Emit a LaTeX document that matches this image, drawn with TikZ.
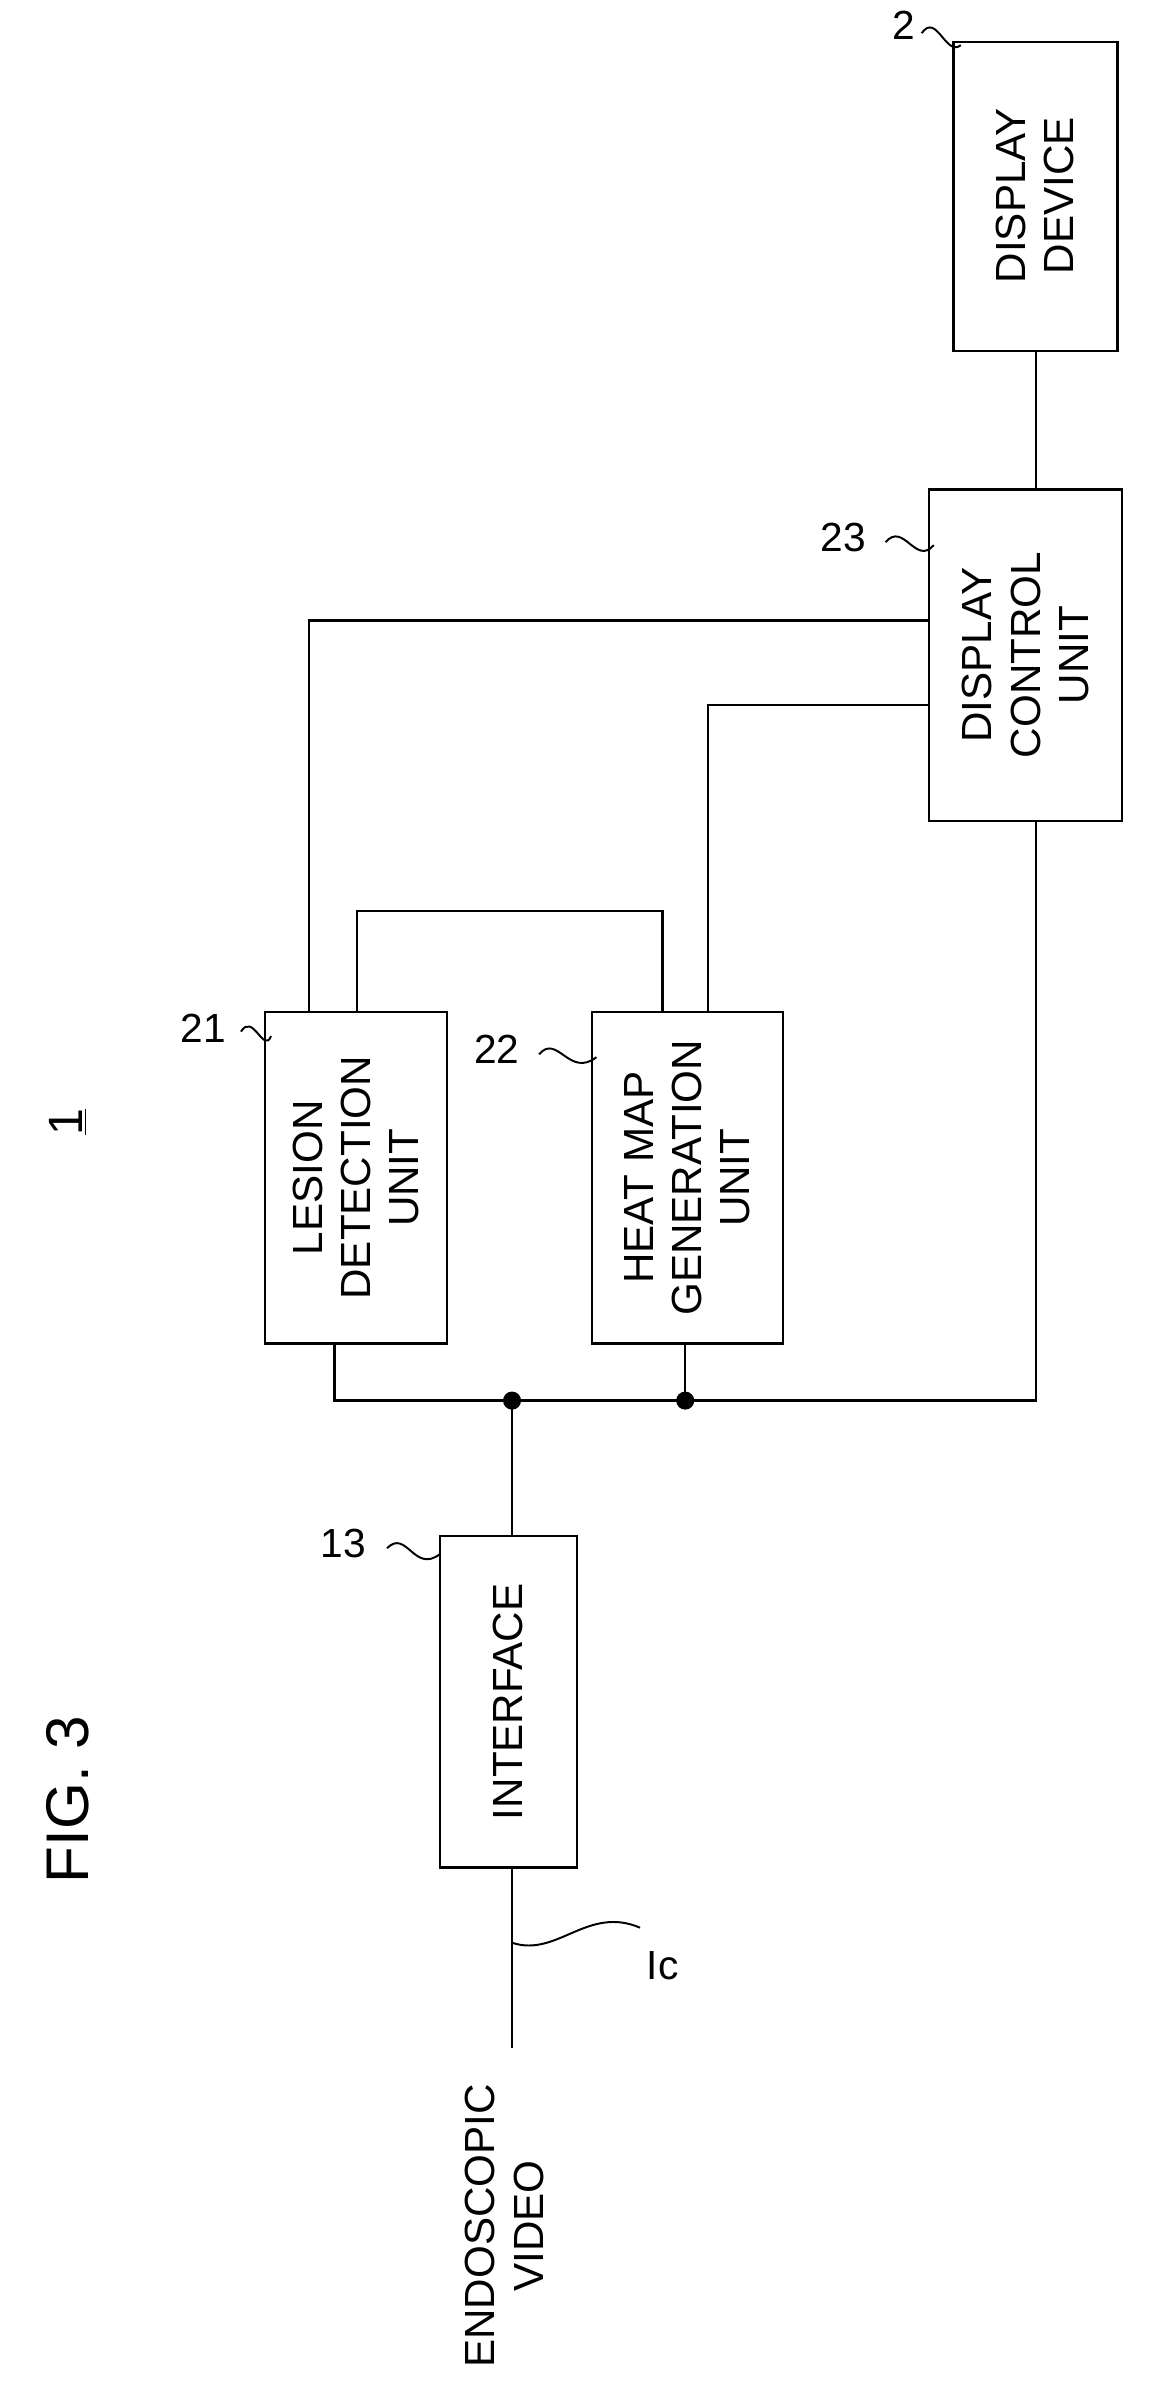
\documentclass[tikz,border=0pt]{standalone}
\usepackage{fontspec}
\setmainfont{Liberation Sans}
\begin{document}
\begin{tikzpicture}[x=1pt,y=-1pt,
  box/.style={draw,line width=1.6pt,inner sep=0pt},
  txt/.style={rotate=90,align=center,font=\fontsize{28}{32}\selectfont},
  lbl/.style={font=\fontsize{27}{30}\selectfont},
  ln/.style={line width=1.6pt},
  sq/.style={line width=1.3pt}]
\useasboundingbox (0,0) rectangle (770,1585);
% boxes
\draw[box] (292,1020) rectangle (383,1240); \node[txt] (if) at (337.5,1130) {INTERFACE};
\draw[box] (176,672) rectangle (297,892); \node[txt] (ld) at (236.5,782) {LESION\\DETECTION\\UNIT};
\draw[box] (393,672) rectangle (520,892); \node[txt] (hm) at (456.5,782) {HEAT MAP\\GENERATION\\UNIT};
\draw[box] (617,325) rectangle (745,545); \node[txt] (dc) at (681,435) {DISPLAY\\CONTROL\\UNIT};
\draw[box] (633,28) rectangle (742,233); \node[txt] (dd) at (687.5,130) {DISPLAY\\DEVICE};
% connectors
\coordinate (j1) at (340,930); \coordinate (j2) at (455,930);
\draw[ln] (340,1020) -- (j1);
\draw[ln] (222,892) -- (222,930) -- (688,930) -- (688,545);
\draw[ln] (j2) -- (455,892);
\fill (j1) circle (6); \fill (j2) circle (6);
\draw[ln] (205,672) -- (205,412) -- (617,412);
\draw[ln] (237,672) -- (237,605) -- (440,605) -- (440,672);
\draw[ln] (470,672) -- (470,468) -- (617,468);
\draw[ln] (688,325) -- (688,233);
\draw[ln] (340,1240) -- (340,1360);
% labels
\node[txt,font=\fontsize{40}{44}\selectfont] (fig) at (45,1195) {FIG. 3};
\node[txt,font=\fontsize{32}{34}\selectfont] (one) at (45,745) {\underline{1}};
\node[txt] (ev) at (335,1478) {ENDOSCOPIC\\VIDEO};
\node[lbl] (l13) at (228,1025) {13};
\draw[sq] (257,1028) .. controls (270,1015) and (275,1045) .. (292,1032);
\node[lbl] (l21) at (135,683) {21};
\draw[sq] (160,685) .. controls (168,672) and (175,700) .. (180,688);
\node[lbl] (l22) at (330,697) {22};
\draw[sq] (358,700) .. controls (370,686) and (378,716) .. (396,702);
\node[lbl] (l23) at (560,357) {23};
\draw[sq] (588,360) .. controls (600,346) and (608,376) .. (620,362);
\node[lbl] (l2) at (600,17) {2};
\draw[sq] (612,22) .. controls (622,8) and (628,38) .. (638,30);
\node[lbl] (lic) at (440,1305) {Ic};
\draw[sq] (340,1290) .. controls (370,1300) and (390,1265) .. (425,1280);
\end{tikzpicture}
\end{document}
